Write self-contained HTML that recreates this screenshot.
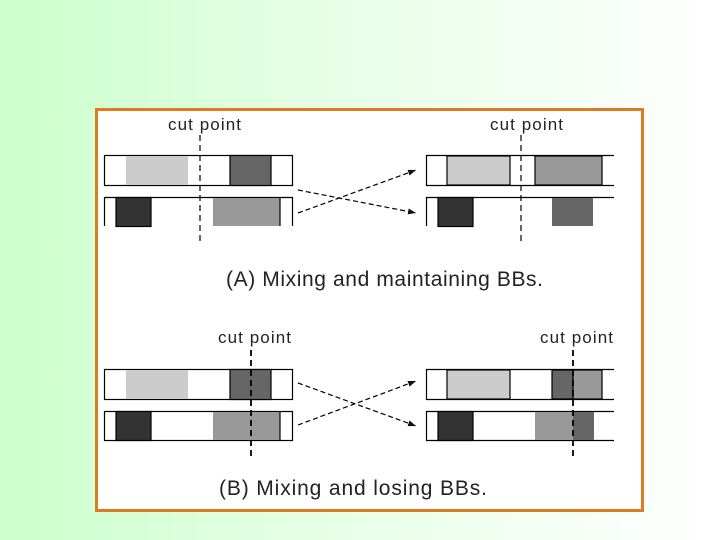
<!DOCTYPE html>
<html><head><style>
html,body{margin:0;padding:0;width:720px;height:540px;overflow:hidden;background:linear-gradient(to right,#ccffcc 0%,#e8ffe8 50%,#ffffff 100%);}
svg{position:absolute;left:0;top:0}
text{font-family:"Liberation Sans",sans-serif;fill:#222}
</style></head><body>
<svg width="720" height="540" viewBox="0 0 720 540">
<defs><marker id="ah" markerWidth="8" markerHeight="6" refX="8" refY="3" orient="auto" markerUnits="userSpaceOnUse"><path d="M0,0L8,3L0,6z" fill="#111"/></marker></defs>
<rect x="96.5" y="109.5" width="546" height="401" fill="#fff" stroke="#e07a20" stroke-width="3"/>
<g stroke="#000" stroke-width="1.2">
<rect x="104.5" y="155.5" width="188" height="30" fill="#fff"/>
<rect x="126" y="156" width="62" height="29" fill="#ccc" stroke="none"/>
<rect x="230" y="155.5" width="41" height="30" fill="#666"/>
<path d="M104.5,226V197.5H292.5V226" fill="none"/>
<rect x="116" y="197.5" width="35" height="29" fill="#333"/>
<rect x="213" y="198" width="67" height="28" fill="#999" stroke="none"/>
<line x1="280" y1="197" x2="280" y2="226"/>
<line x1="200" y1="135" x2="200" y2="245" stroke-dasharray="6,4"/>
<path d="M614,155.5H426.5V185.5H614" fill="#fff"/>
<rect x="447" y="156" width="63" height="29" fill="#ccc"/>
<rect x="535" y="156" width="67" height="29" fill="#999"/>
<path d="M426.5,226V197.5H614" fill="none"/>
<rect x="438" y="197.5" width="35" height="29" fill="#333"/>
<rect x="552" y="198" width="41" height="28" fill="#666" stroke="none"/>
<line x1="521" y1="135" x2="521" y2="245" stroke-dasharray="6,4"/>
<line x1="298" y1="190" x2="416" y2="213" stroke-dasharray="5,3" marker-end="url(#ah)"/>
<line x1="298" y1="213" x2="416" y2="170" stroke-dasharray="5,3" marker-end="url(#ah)"/>
<rect x="104.5" y="369.5" width="188" height="30" fill="#fff"/>
<rect x="126" y="370" width="62" height="29" fill="#ccc" stroke="none"/>
<rect x="230" y="369.5" width="41" height="30" fill="#666"/>
<rect x="104.5" y="411.5" width="188" height="29" fill="#fff"/>
<rect x="116" y="411.5" width="35" height="29" fill="#333"/>
<rect x="213" y="412" width="67" height="28" fill="#999" stroke="none"/>
<line x1="280" y1="411" x2="280" y2="440"/>
<line x1="251" y1="350" x2="251" y2="458" stroke-dasharray="6,4" stroke-width="1.8"/>
<path d="M614,369.5H426.5V399.5H614" fill="#fff"/>
<rect x="447" y="370" width="63" height="29" fill="#ccc"/>
<rect x="552" y="370" width="21" height="29" fill="#666"/>
<rect x="573" y="370" width="29" height="29" fill="#999"/>
<path d="M614,411.5H426.5V440.5H614" fill="#fff"/>
<rect x="438" y="411.5" width="35" height="29" fill="#333"/>
<rect x="535" y="412" width="38" height="28" fill="#999" stroke="none"/>
<rect x="573" y="412" width="21" height="28" fill="#666" stroke="none"/>
<line x1="573" y1="350" x2="573" y2="460" stroke-dasharray="6,4" stroke-width="1.8"/>
<line x1="298" y1="383" x2="416" y2="426" stroke-dasharray="5,3" marker-end="url(#ah)"/>
<line x1="298" y1="425" x2="416" y2="381" stroke-dasharray="5,3" marker-end="url(#ah)"/>
</g>
<text x="168" y="130" font-size="17" textLength="73">cut point</text>
<text x="490" y="130" font-size="17" textLength="73">cut point</text>
<text x="218" y="343" font-size="17" textLength="73">cut point</text>
<text x="540" y="343" font-size="17" textLength="73">cut point</text>
<text x="226" y="286" font-size="21" textLength="317">(A) Mixing and maintaining BBs.</text>
<text x="219" y="495" font-size="21" textLength="268">(B) Mixing and losing BBs.</text>
</svg>
</body></html>
